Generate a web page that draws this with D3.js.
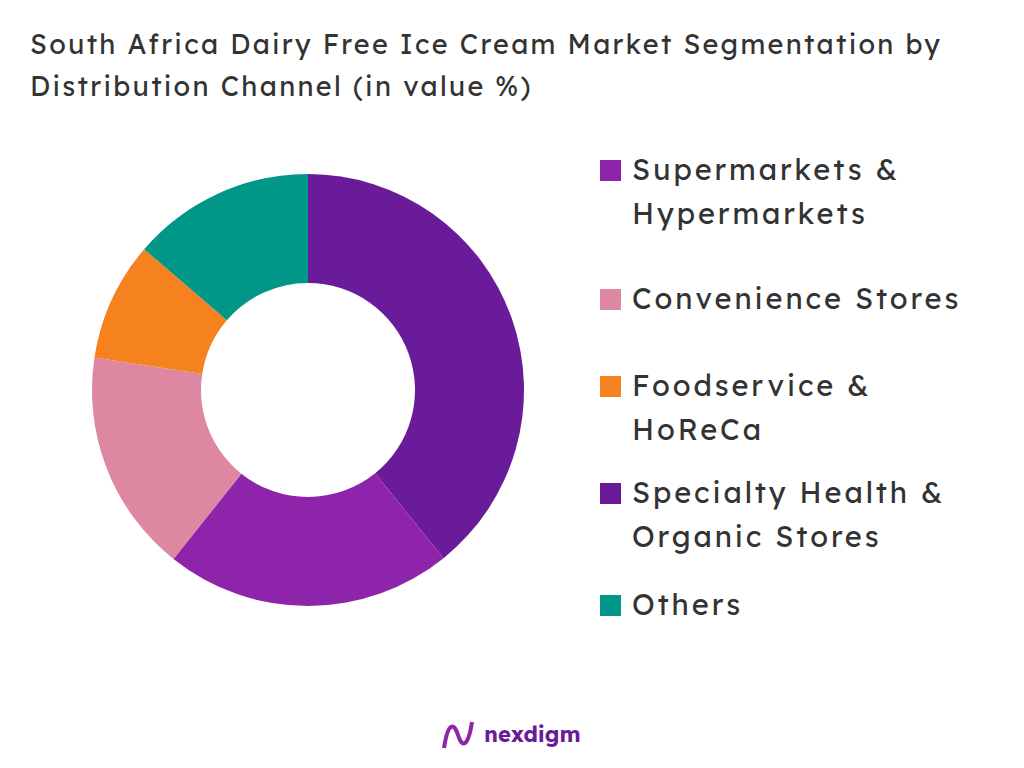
<!DOCTYPE html>
<html><head><meta charset="utf-8">
<script src="https://cdn.jsdelivr.net/npm/d3@7"></script>
<style>body{margin:0;background:#fff}</style></head>
<body><svg id="c" width="1024" height="768"></svg>
<script>
const sliceNames = ["Specialty Health & Organic Stores","Supermarkets & Hypermarkets","Convenience Stores","Foodservice & HoReCa","Others"];
const sliceValues = [39.2, 21.5, 16.7, 8.9, 13.7];
const sliceColors = ["#6a1b9a","#8e24aa","#de87a0","#f5821f","#009688"];
const legendNames = [["Supermarkets &","Hypermarkets"],["Convenience Stores"],["Foodservice &","HoReCa"],["Specialty Health &","Organic Stores"],["Others"]];
const legendColors = ["#8e24aa","#de87a0","#f5821f","#6a1b9a","#009688"];
const titleLines = ["South Africa Dairy Free Ice Cream Market Segmentation by","Distribution Channel (in value %)"];

const svg = d3.select("#c");
const font = "Lexend, 'Noto Sans', sans-serif";
svg.selectAll("text.t").data(titleLines).join("text").attr("class","t")
  .attr("x",30).attr("y",(d,i)=>54+i*42).attr("font-family",font).attr("font-size",27).attr("letter-spacing",2.3).attr("fill","#333").text(d=>d);

const pie = d3.pie().sort(null).value(d=>d)(sliceValues);
const arc = d3.arc().innerRadius(107).outerRadius(216);
const g = svg.append("g").attr("transform","translate(308,390)");
g.selectAll("path").data(pie).join("path").attr("d",arc).attr("fill",(d,i)=>sliceColors[i]);

const ly = [170,299,386,493,605];
const lg = svg.append("g");
legendNames.forEach((lines,i)=>{
  lg.append("rect").attr("x",600).attr("y",ly[i]-10).attr("width",21).attr("height",21).attr("fill",legendColors[i]);
  lines.forEach((t,j)=>lg.append("text").attr("x",632).attr("y",ly[i]+10+j*44).attr("font-family",font).attr("font-size",29).attr("letter-spacing",2.9).attr("fill","#333").text(t));
});
const lo = svg.append("g");
lo.append("path").attr("d","M444,748 C448,722 454,722 458,735 C462,748 468,748 472,722").attr("fill","none").attr("stroke","#8e24aa").attr("stroke-width",4);
lo.append("text").attr("x",484).attr("y",742).attr("font-family",font).attr("font-weight","bold").attr("font-size",22).attr("fill","#6a1b9a").text("nexdigm");
</script></body></html>
